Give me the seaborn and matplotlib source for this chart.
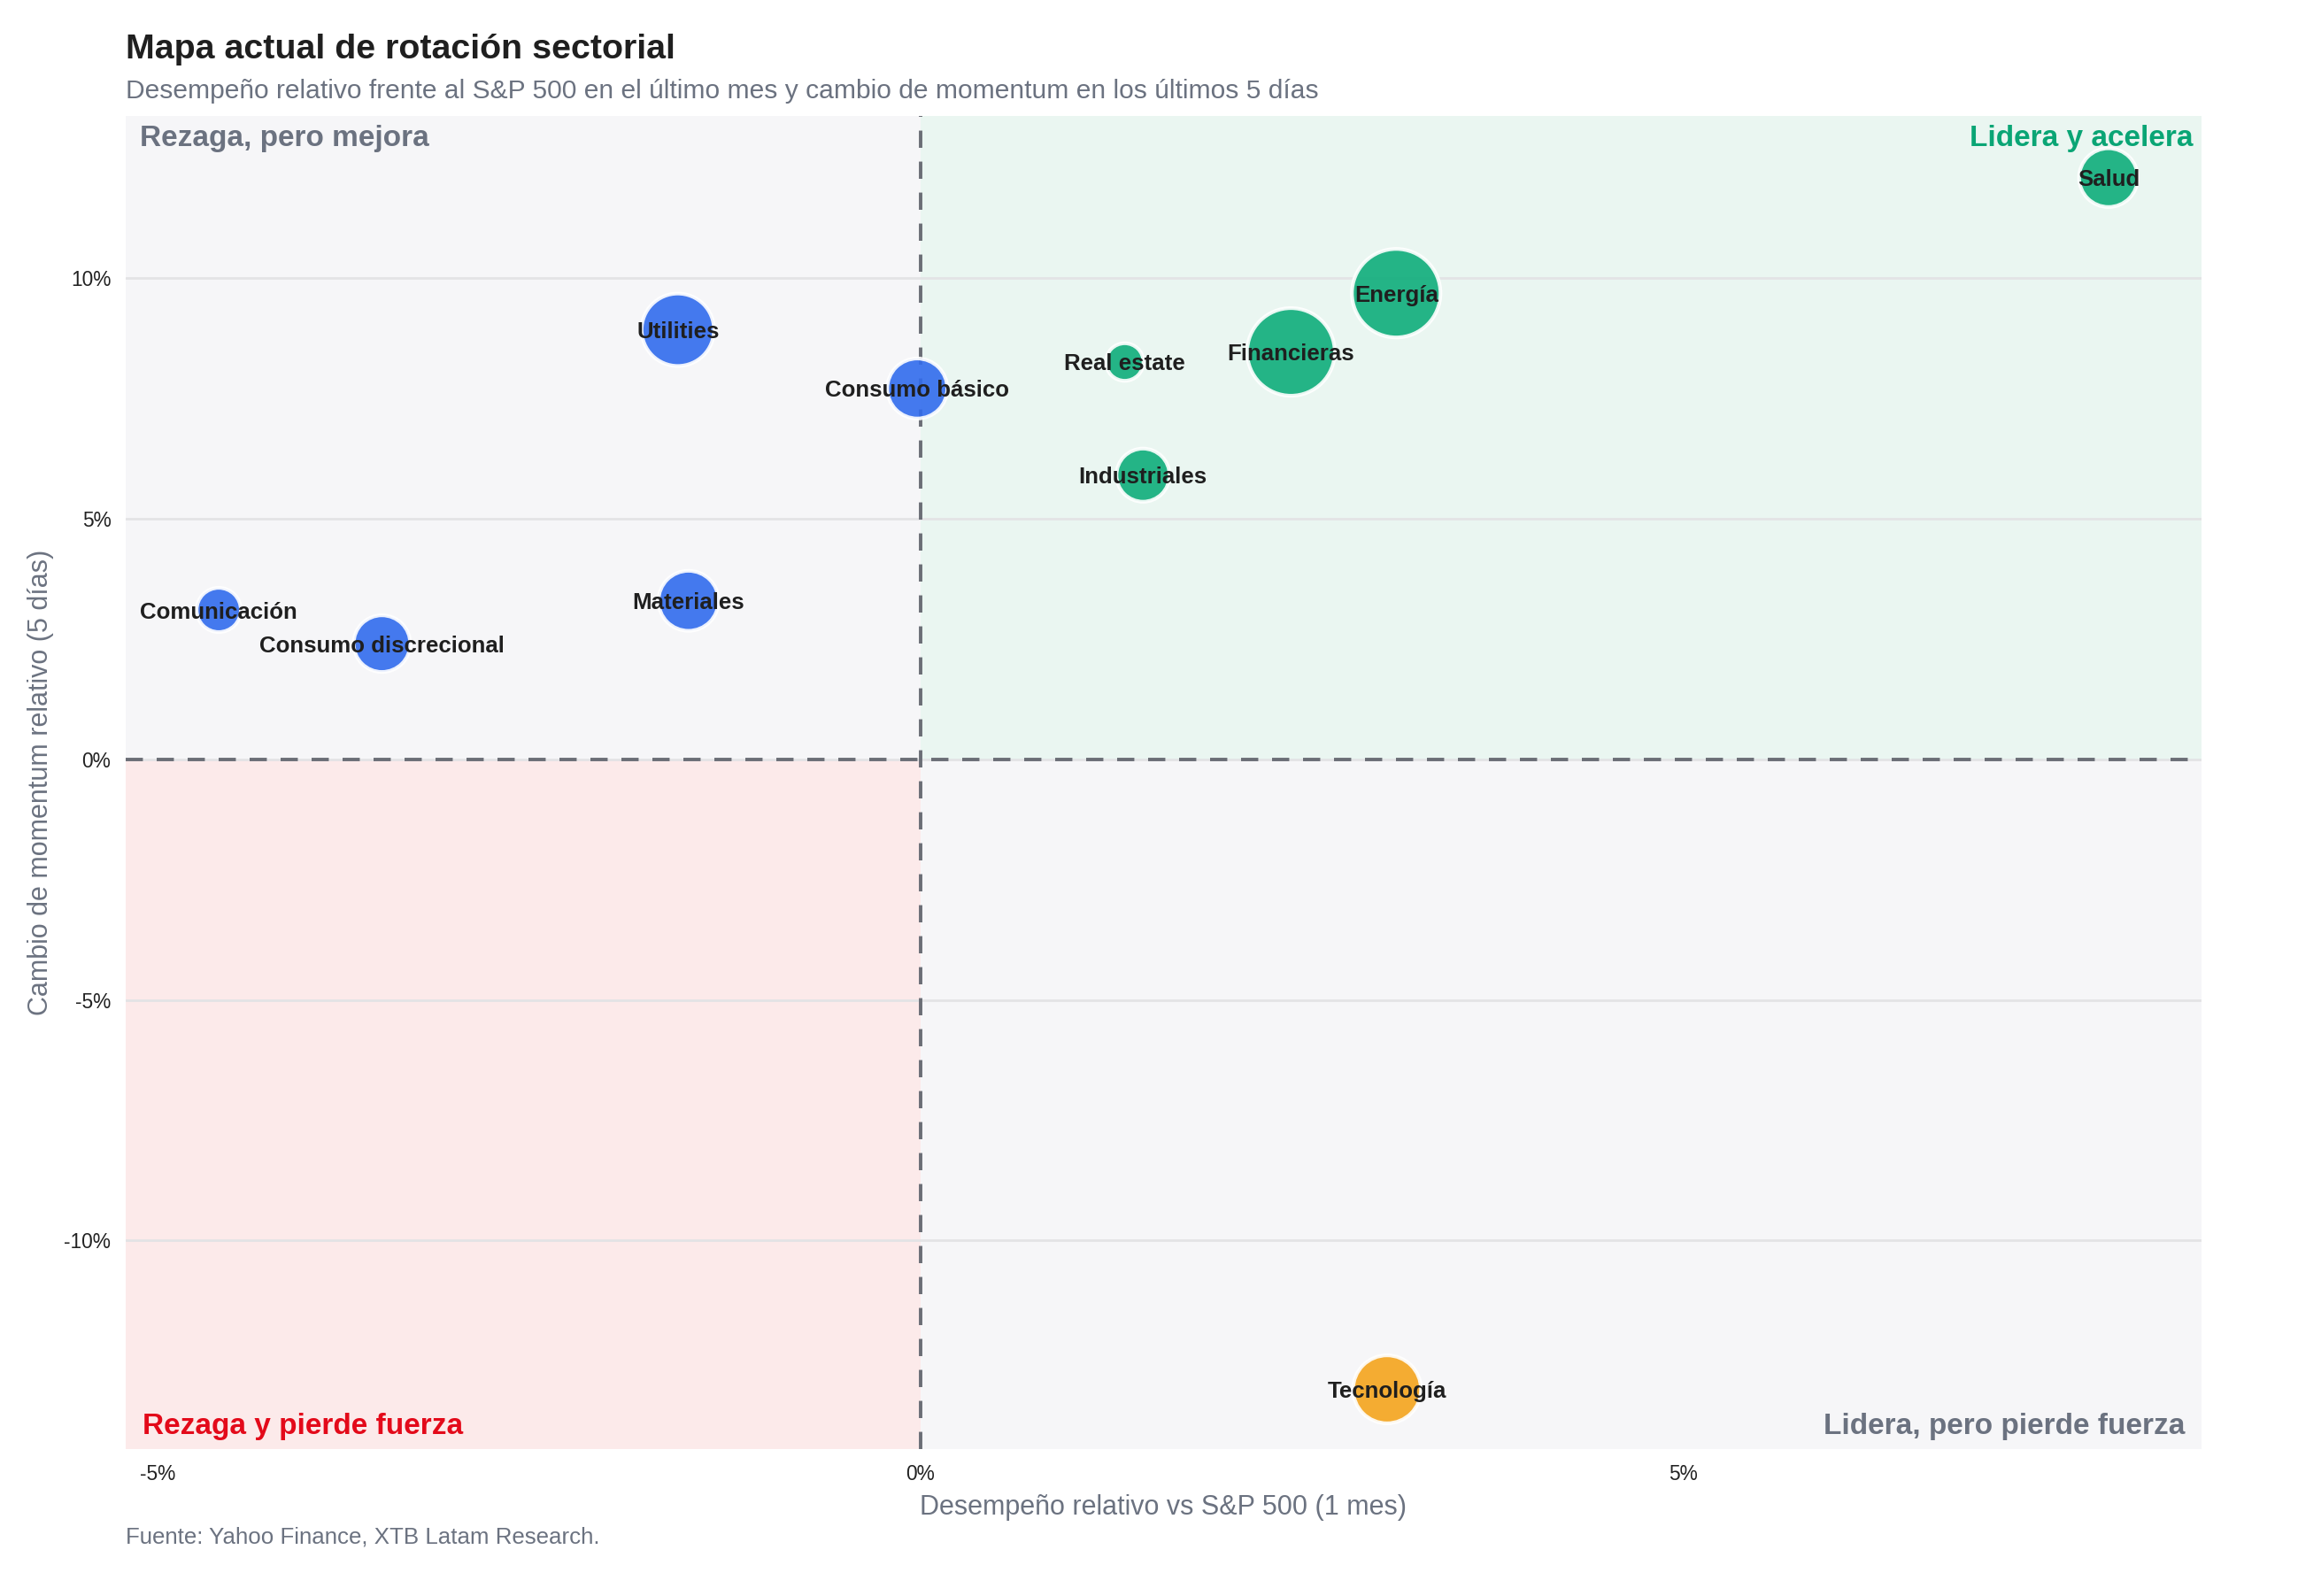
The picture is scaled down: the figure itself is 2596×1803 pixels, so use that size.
import numpy as np
import pandas as pd
import matplotlib
matplotlib.use("Agg")
import matplotlib.pyplot as plt
import seaborn as sns
from matplotlib.ticker import FuncFormatter

# Datos
sectores = ["Salud", "Energía", "Financieras", "Real estate", "Industriales",
            "Consumo básico", "Utilities", "Materiales", "Comunicación",
            "Consumo discrecional", "Tecnología"]
desempeno_1m = [7.79, 3.12, 2.43, 1.34, 1.46, -0.02, -1.59, -1.52, -4.60, -3.53, 3.06]
momentum_5d = [12.08, 9.68, 8.46, 8.25, 5.90, 7.70, 8.92, 3.29, 3.10, 2.40, -13.09]
peso = [44, 100, 98, 18, 36, 46, 67, 46, 25, 41, 59]

df = pd.DataFrame({"sector": sectores, "x": desempeno_1m, "y": momentum_5d, "peso": peso})


def cuadrante(r):
    if r.x >= 0 and r.y >= 0:
        return "Lidera y acelera"
    if r.x < 0 and r.y >= 0:
        return "Rezaga, pero mejora"
    if r.x >= 0:
        return "Lidera, pero pierde fuerza"
    return "Rezaga y pierde fuerza"


df["cuadrante"] = df.apply(cuadrante, axis=1)

colores = {
    "Lidera y acelera": "#0EAD7B",
    "Rezaga, pero mejora": "#316BED",
    "Lidera, pero pierde fuerza": "#F4A41C",
    "Rezaga y pierde fuerza": "#DC2626",
}

sns.set_theme(style="white")
plt.rcParams["font.family"] = ["Liberation Sans", "DejaVu Sans"]

fig = plt.figure(figsize=(12.98, 9.015), dpi=200)
ax = fig.add_axes([0.0547, 0.0921, 0.9033, 0.8352])

xmin, xmax = -5.21, 8.40
ymin, ymax = -14.33, 13.36
y0 = (0 - ymin) / (ymax - ymin)

# Fondos de cuadrantes
ax.axvspan(xmin, 0, ymin=y0, ymax=1, color="#F6F6F8", zorder=0, lw=0)
ax.axvspan(0, xmax, ymin=y0, ymax=1, color="#EAF6F1", zorder=0, lw=0)
ax.axvspan(xmin, 0, ymin=0, ymax=y0, color="#FCEAEA", zorder=0, lw=0)
ax.axvspan(0, xmax, ymin=0, ymax=y0, color="#F6F6F8", zorder=0, lw=0)

ax.set_yticks([-10, -5, 0, 5, 10])
ax.set_xticks([-5, 0, 5])
ax.grid(axis="y", color="#E3E3E5", lw=1.0, zorder=1)
ax.grid(axis="x", visible=False)

ax.axvline(0, color="#6B6E76", ls=(0, (5, 4)), lw=1.4, zorder=2)
ax.axhline(0, color="#6B6E76", ls=(0, (5, 4)), lw=1.4, zorder=2)

sns.scatterplot(data=df, x="x", y="y", hue="cuadrante", palette=colores,
                size="peso", sizes=(233, 1296), size_norm=(18, 100),
                alpha=0.9, edgecolor="white", linewidth=1.5,
                legend=False, ax=ax, zorder=3)

for _, r in df.iterrows():
    ax.text(r.x, r.y, r.sector, ha="center", va="center_baseline", fontsize=9.3,
            fontweight="bold", color="#1F1F1F", zorder=4)

ax.set_xlim(xmin, xmax)
ax.set_ylim(ymin, ymax)
fmt = FuncFormatter(lambda v, _: f"{v:.0f}%")
ax.xaxis.set_major_formatter(fmt)
ax.yaxis.set_major_formatter(fmt)
ax.tick_params(axis="both", labelsize=8.2, colors="#222222", length=0, pad=6)
for s in ax.spines.values():
    s.set_visible(False)

ax.set_xlabel("Desempeño relativo vs S&P 500 (1 mes)", fontsize=11, color="#6B7280", labelpad=4)
ax.set_ylabel("Cambio de momentum relativo (5 días)", fontsize=11, color="#6B7280", labelpad=4)

# Etiquetas de cuadrantes
ax.text(0.007, 0.983, "Rezaga, pero mejora", transform=ax.transAxes, ha="left", va="center",
        fontsize=12, fontweight="bold", color="#6B7280")
ax.text(0.996, 0.983, "Lidera y acelera", transform=ax.transAxes, ha="right", va="center",
        fontsize=12, fontweight="bold", color="#0AA575")
ax.text(0.008, 0.017, "Rezaga y pierde fuerza", transform=ax.transAxes, ha="left", va="center",
        fontsize=12, fontweight="bold", color="#E30A1A")
ax.text(0.992, 0.017, "Lidera, pero pierde fuerza", transform=ax.transAxes, ha="right", va="center",
        fontsize=12, fontweight="bold", color="#6B7280")

fig.text(0.0547, 0.969, "Mapa actual de rotación sectorial", fontsize=14.2, fontweight="bold",
         color="#1F1F1F", ha="left", va="center")
fig.text(0.0547, 0.943, "Desempeño relativo frente al S&P 500 en el último mes y cambio de momentum en los últimos 5 días",
         fontsize=10.8, color="#6B7280", ha="left", va="center")
fig.text(0.0547, 0.037, "Fuente: Yahoo Finance, XTB Latam Research.", fontsize=9.3,
         color="#6B7280", ha="left", va="center")

fig.savefig("out.png", dpi=200, facecolor="white")
